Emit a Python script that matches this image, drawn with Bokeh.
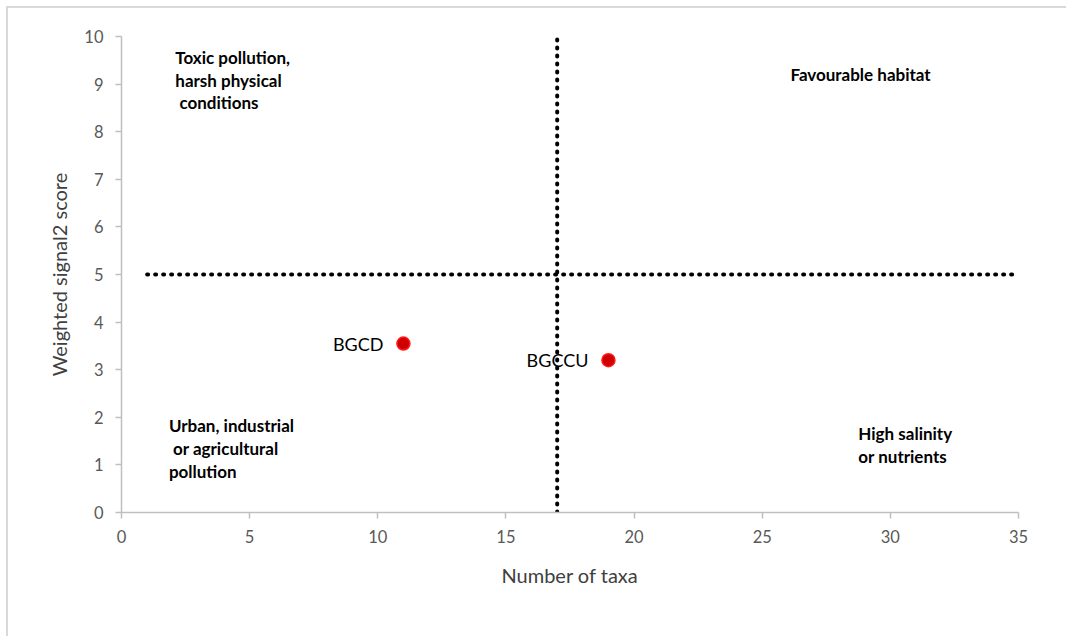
from bokeh.plotting import figure
from bokeh.models import Range1d, FixedTicker, ColumnDataSource, Label
from bokeh.core.properties import value
from bokeh.embed import file_html
from bokeh.resources import INLINE

# ---- data ----
sites = ["BGCD", "BGCCU"]
num_taxa = [11, 19]
signal2_score = [3.55, 3.2]

x_ticks = [0, 5, 10, 15, 20, 25, 30, 35]
y_ticks = [0, 1, 2, 3, 4, 5, 6, 7, 8, 9, 10]

taxa_threshold = 17
score_threshold = 5
x_extent = [0, 35]
y_extent = [0, 10]
h_line_x = [1, 35]

quadrant_texts = [
    "Toxic pollution,\nharsh physical\n\u00a0conditions",
    "Favourable habitat",
    "Urban, industrial\n\u00a0or agricultural\npollution",
    "High salinity\nor nutrients",
]

FONT = "Lato"

p = figure(width=1060, height=630, output_backend="svg", toolbar_location=None,
           x_range=Range1d(*x_extent), y_range=Range1d(*y_extent),
           min_border_left=113, min_border_right=50, min_border_top=28, min_border_bottom=126)
p.styles = {"border-top": "2px solid #d9d9d9", "border-left": "2px solid #d9d9d9",
            "margin-left": "6px", "margin-top": "6px"}
p.outline_line_color = None
p.xgrid.visible = False
p.ygrid.visible = False
p.background_fill_color = "white"
p.border_fill_color = "white"

for ax in (p.xaxis[0], p.yaxis[0]):
    ax.axis_line_color = "#bfbfbf"
    ax.axis_line_width = 1.5
    ax.major_tick_line_color = "#bfbfbf"
    ax.major_tick_line_width = 1.5
    ax.major_tick_out = 6
    ax.major_tick_in = 0
    ax.minor_tick_line_color = None
    ax.major_label_text_font = FONT
    ax.major_label_text_font_size = "16.5px"
    ax.major_label_text_color = "#595959"
    ax.axis_label_text_font = FONT
    ax.axis_label_text_font_size = "20px"
    ax.axis_label_text_font_style = "normal"
    ax.axis_label_text_color = "#404040"

p.xaxis[0].ticker = FixedTicker(ticks=x_ticks)
p.yaxis[0].ticker = FixedTicker(ticks=y_ticks)
p.xaxis[0].axis_label = "Number of taxa"
p.yaxis[0].axis_label = "Weighted signal2 score"
p.xaxis[0].major_label_standoff = 11
p.yaxis[0].major_label_standoff = 12
p.xaxis[0].axis_label_standoff = 17
p.yaxis[0].axis_label_standoff = 10

# threshold dotted lines
p.line([taxa_threshold, taxa_threshold], y_extent, line_color="black", line_width=4,
       line_dash="1 7", line_cap="round")
p.line(h_line_x, [score_threshold, score_threshold], line_color="black", line_width=4,
       line_dash="1 7", line_cap="round")

# points
src = ColumnDataSource(dict(x=num_taxa, y=signal2_score, name=sites))
p.scatter("x", "y", source=src, size=13, fill_color="#d00000", line_color="#ff1a1a",
          line_width=1.5)
p.text("x", "y", text="name", source=src, x_offset=-20, text_align="right",
       text_baseline="middle", text_font=value(FONT), text_font_size="18px",
       text_color="black")

# quadrant annotations
q_x = [2.1, 26.1, 1.85, 28.75]
q_y = [9.78, 9.42, 2.04, 1.88]
for t, xx, yy in zip(quadrant_texts, q_x, q_y):
    p.add_layout(Label(x=xx, y=yy, text=t, text_font=FONT, text_font_size="17px",
                       text_font_style="bold", text_color="black",
                       text_baseline="top", text_align="left", text_line_height=1.08))

open("out.html", "w").write(file_html(p, INLINE))
